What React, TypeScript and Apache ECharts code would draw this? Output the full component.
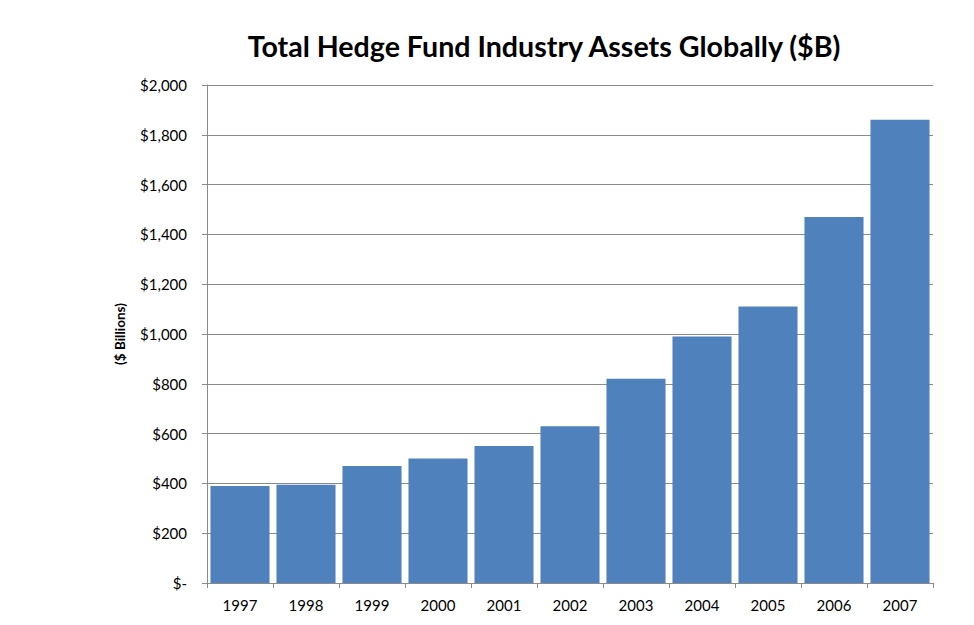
import React, { useEffect, useRef } from "react";
import * as echarts from "echarts";

const years = ["1997", "1998", "1999", "2000", "2001", "2002", "2003", "2004", "2005", "2006", "2007"];
const assets = [390, 395, 470, 500, 550, 630, 820, 990, 1110, 1470, 1860];
const titleText = "Total Hedge Fund Industry Assets Globally ($B)";
const yAxisName = "($ Billions)";

const FONT = "Lato, 'Open Sans', sans-serif";

export default function App() {
  const ref = useRef<HTMLDivElement>(null);
  useEffect(() => {
    if (!ref.current) return;
    const chart = echarts.init(ref.current, undefined, { renderer: "svg" });
    chart.setOption({
      animation: false,
      backgroundColor: "#ffffff",
      title: {
        text: titleText,
        left: 539,
        top: 26,
        textAlign: "center",
        textStyle: { fontFamily: FONT, fontSize: 28.6, fontWeight: "bold", color: "#000" },
      },
      grid: { left: 207, right: 41, top: 85, bottom: 42, containLabel: false },
      xAxis: {
        type: "category",
        data: years,
        boundaryGap: true,
        axisLine: { lineStyle: { color: "#8a8a8a", width: 1 } },
        axisTick: { show: true, length: 5, alignWithLabel: false, lineStyle: { color: "#8a8a8a" } },
        axisLabel: { fontFamily: FONT, fontSize: 15, color: "#000", margin: 14 },
      },
      yAxis: {
        type: "value",
        min: 0,
        max: 2000,
        interval: 200,
        name: yAxisName,
        nameLocation: "middle",
        nameRotate: 90,
        nameGap: 80,
        nameTextStyle: { fontFamily: FONT, fontSize: 13.5, fontWeight: "bold", color: "#000" },
        axisLine: { show: true, lineStyle: { color: "#8a8a8a", width: 1 } },
        axisTick: { show: true, length: 5, lineStyle: { color: "#8a8a8a" } },
        splitLine: { show: true, lineStyle: { color: "#8a8a8a", width: 1 } },
        axisLabel: {
          fontFamily: FONT,
          fontSize: 15,
          color: "#000",
          margin: 20,
          formatter: (v: number) => (v === 0 ? "$-" : "$" + v.toLocaleString("en-US")),
        },
      },
      series: [
        {
          type: "bar",
          data: assets,
          barCategoryGap: "10.5%",
          itemStyle: { color: "#4F81BD" },
        },
      ],
    });
    return () => chart.dispose();
  }, []);
  return (
    <div
      ref={ref}
      style={{ position: "fixed", left: 0, top: 0, width: 974, height: 625 }}
    />
  );
}
